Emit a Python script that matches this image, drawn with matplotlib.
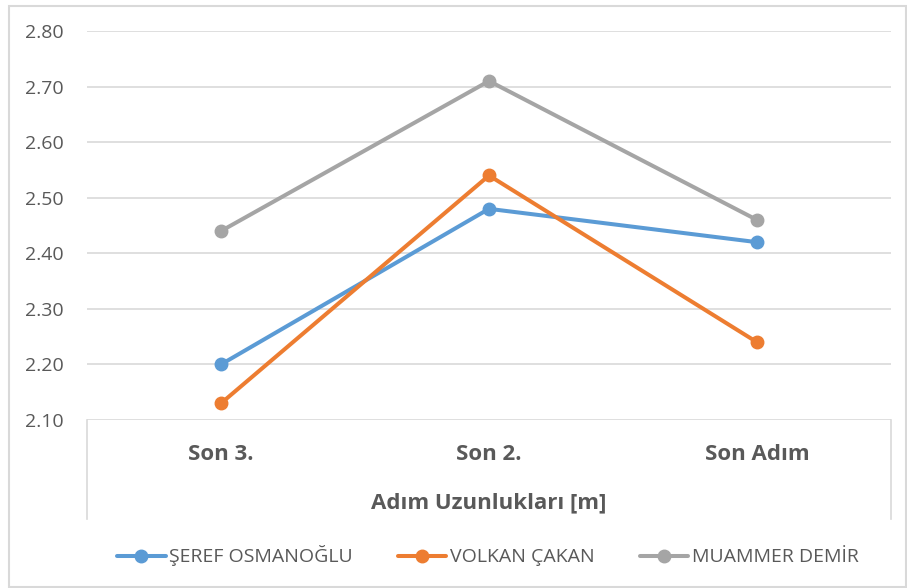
import matplotlib.pyplot as plt
from matplotlib.patches import Rectangle

categories = ["Son 3.", "Son 2.", "Son Adım"]
seref = [2.20, 2.48, 2.42]
volkan = [2.13, 2.54, 2.24]
muammer = [2.44, 2.71, 2.46]
names = ["ŞEREF OSMANOĞLU", "VOLKAN ÇAKAN", "MUAMMER DEMİR"]
colors = ["#5B9BD5", "#ED7D31", "#A5A5A5"]
yticks = [2.10, 2.20, 2.30, 2.40, 2.50, 2.60, 2.70, 2.80]

plt.rcParams['font.family'] = ['Open Sans', 'DejaVu Sans']
W, H = 907, 588
fig = plt.figure(figsize=(W / 100, H / 100), dpi=100)
ax = fig.add_axes([87 / W, 1 - 420 / H, (891 - 87) / W, (420 - 31) / H])

x = range(len(categories))
for vals, name, c in zip([seref, volkan, muammer], names, colors):
    ax.plot(x, vals, color=c, lw=2.9, marker="o", markersize=9, label=name,
            solid_capstyle="round", zorder=3)

ax.set_xlim(-0.5, len(categories) - 0.5)
ax.set_ylim(2.10, 2.80)
ax.set_yticks(yticks)
ax.set_yticklabels(["{:.2f}".format(v) for v in yticks])
ax.yaxis.grid(True, color="#d9d9d9", lw=1.2)
ax.set_axisbelow(True)
for s in ax.spines.values():
    s.set_visible(False)
ax.tick_params(axis="y", length=0, pad=17, labelsize=14, labelcolor="#595959")
ax.set_xticks(list(x))
ax.set_xticklabels(categories, fontsize=16, fontweight="bold", color="#595959")
ax.tick_params(axis="x", length=0, pad=17)

# box around category axis area
h = 99 / (420 - 31)
for xx in [0, 1]:
    ax.plot([xx, xx], [0, -h], transform=ax.transAxes, clip_on=False,
            color="#d9d9d9", lw=1.2)

fig.text((87 + 891) / 2 / W, 1 - 503 / H, "Adım Uzunlukları [m]", ha="center",
         va="center", fontsize=16, fontweight="bold", color="#595959")

leg = fig.legend(loc="center", bbox_to_anchor=(488 / W, 1 - 556 / H), ncol=3,
                 frameon=False, fontsize=14, handlelength=2.5, handletextpad=0.2,
                 columnspacing=2.3, labelcolor="#595959")

fig.patches.append(Rectangle((9 / W, 1 - 587 / H), (906 - 9) / W, (587 - 6) / H,
                             transform=fig.transFigure, fill=False,
                             edgecolor="#d9d9d9", lw=1.5))

fig.savefig("out.png", dpi=100)
